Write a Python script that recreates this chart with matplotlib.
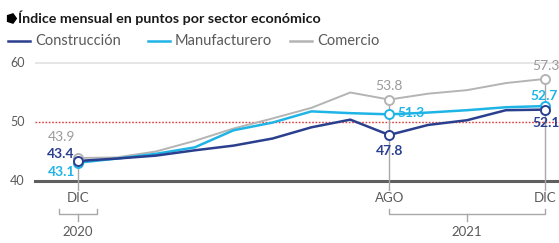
import matplotlib
matplotlib.use("Agg")
import matplotlib.pyplot as plt
from matplotlib.lines import Line2D

# Data: monthly index, Dec 2020 .. Dec 2021
months = ["DIC", "ENE", "FEB", "MAR", "ABR", "MAY", "JUN", "JUL",
          "AGO", "SEP", "OCT", "NOV", "DIC"]
construccion = [43.4, 43.8, 44.3, 45.2, 46.0, 47.2, 49.1, 50.4,
                47.8, 49.5, 50.3, 52.0, 52.1]
manufacturero = [43.1, 43.8, 44.6, 45.7, 48.6, 49.9, 51.8, 51.5,
                 51.3, 51.6, 52.0, 52.5, 52.7]
comercio = [43.9, 44.0, 45.0, 46.8, 48.9, 50.6, 52.4, 55.0,
            53.8, 54.8, 55.4, 56.6, 57.3]
yticks = [40, 50, 60]
tick_idx = [0, 8, 12]
years = ["2020", "2021"]

C_CON = "#2b3f8f"
C_MAN = "#1fb4e6"
C_COM = "#b4b4b4"
TXT = "#5a5a5a"
FONT = "Lato"

W, H = 559, 243
fig = plt.figure(figsize=(W / 100, H / 100), dpi=100)


def fx(px):
    return px / W


def fy(py):
    return 1 - py / H


# axes placement in pixels
x0_px, x1_px = 35, 559
y_top_px, y_bot_px = 51.2, 181
ax = fig.add_axes([fx(x0_px), fy(y_bot_px), fx(x1_px - x0_px), (y_bot_px - y_top_px) / H])
px_per_month = 38.9
ax.set_xlim((x0_px - 78) / px_per_month, (x1_px - 78) / px_per_month)
ax.set_ylim(40, 62)
ax.axis("off")

xs = list(range(len(months)))

# grid / reference lines
ax.axhline(60, color="#e2e2e2", lw=1.2, zorder=1)
ax.axhline(50, color="#e03a3a", lw=1.0, ls=(0, (1.2, 1.2)), zorder=1)
ax.axhline(40, color="#5f5f5f", lw=2.2, zorder=2, clip_on=False)

for v in yticks:
    fig.text(fx(10), fy(y_bot_px - (v - 40) * (y_bot_px - y_top_px) / 22),
             str(v), ha="left", va="center", fontsize=9, color=TXT, family=FONT)

# vertical tick lines from top marker down past baseline
for i in tick_idx:
    top = max(construccion[i], manufacturero[i], comercio[i])
    ax.plot([i, i], [top, 38.4], color="#a8a8a8", lw=1.0, zorder=2, clip_on=False)
    ax.text(i, 37.1, months[i], ha="center", va="center", fontsize=9.5,
            color=TXT, family=FONT, clip_on=False)

# year brackets
def bracket(a, b, label):
    yb, yt = 34.4, 35.3
    ax.plot([a, a, b, b], [yt, yb, yb, yt], color="#a8a8a8", lw=1.0, clip_on=False)
    m = (a + b) / 2
    ax.plot([m, m], [yb, 33.3], color="#a8a8a8", lw=1.0, clip_on=False)
    ax.text(m, 31.3, label, ha="center", va="center", fontsize=9.5,
            color=TXT, family=FONT, clip_on=False)

bracket(-0.5, 0.5, years[0])
bracket(8, 12, years[1])

# series
ax.plot(xs, comercio, color=C_COM, lw=1.4, zorder=3)
ax.plot(xs, manufacturero, color=C_MAN, lw=1.8, zorder=4)
ax.plot(xs, construccion, color=C_CON, lw=1.8, zorder=5)

for i in tick_idx:
    for s, c, z in [(comercio, C_COM, 6), (manufacturero, C_MAN, 7), (construccion, C_CON, 8)]:
        ax.plot(i, s[i], "o", ms=6.5, mfc="white", mec=c, mew=1.4, zorder=z, clip_on=False)

# value labels
lab = dict(fontsize=10, family=FONT, clip_on=False)
ax.text(-0.08, comercio[0] + 3.6, f"{comercio[0]:.1f}", color="#9a9a9a", ha="right", va="center", **lab)
ax.text(-0.08, construccion[0] + 1.2, f"{construccion[0]:.1f}", color=C_CON, ha="right", va="center", weight="bold", **lab)
ax.text(-0.08, manufacturero[0] - 1.6, f"{manufacturero[0]:.1f}", color=C_MAN, ha="right", va="center", weight="bold", **lab)

ax.text(8, comercio[8] + 2.3, f"{comercio[8]:.1f}", color="#9a9a9a", ha="center", va="center", **lab)
ax.text(8.22, manufacturero[8] + 0.2, f"{manufacturero[8]:.1f}", color=C_MAN, ha="left", va="center", weight="bold", **lab)
ax.text(8, construccion[8] - 2.7, f"{construccion[8]:.1f}", color=C_CON, ha="center", va="center", weight="bold", **lab)

ax.text(11.67, comercio[12] + 2.2, f"{comercio[12]:.1f}", color="#9a9a9a", ha="left", va="center", **lab)
ax.text(11.62, manufacturero[12] + 1.7, f"{manufacturero[12]:.1f}", color=C_MAN, ha="left", va="center", weight="bold", **lab)
ax.text(11.67, construccion[12] - 2.3, f"{construccion[12]:.1f}", color=C_CON, ha="left", va="center", weight="bold", **lab)

# subtitle with bullet
fig.add_artist(Line2D([fx(11)], [fy(18)], marker=(5, 0, -90), ms=7, color="black",
                      transform=fig.transFigure))
fig.text(fx(18), fy(18), "Índice mensual en puntos por sector económico",
         ha="left", va="center", fontsize=10.3, weight="bold", color="#1a1a1a", family=FONT)

# legend
legend_items = [("Construcción", C_CON, 8), ("Manufacturero", C_MAN, 148), ("Comercio", C_COM, 290)]
for name, c, lx in legend_items:
    fig.add_artist(Line2D([fx(lx), fx(lx + 22)], [fy(41), fy(41)], color=c, lw=1.8,
                          transform=fig.transFigure))
    fig.text(fx(lx + 27), fy(41), name, ha="left", va="center", fontsize=10.5,
             color=TXT, family=FONT)

fig.savefig("out.png", dpi=100)
